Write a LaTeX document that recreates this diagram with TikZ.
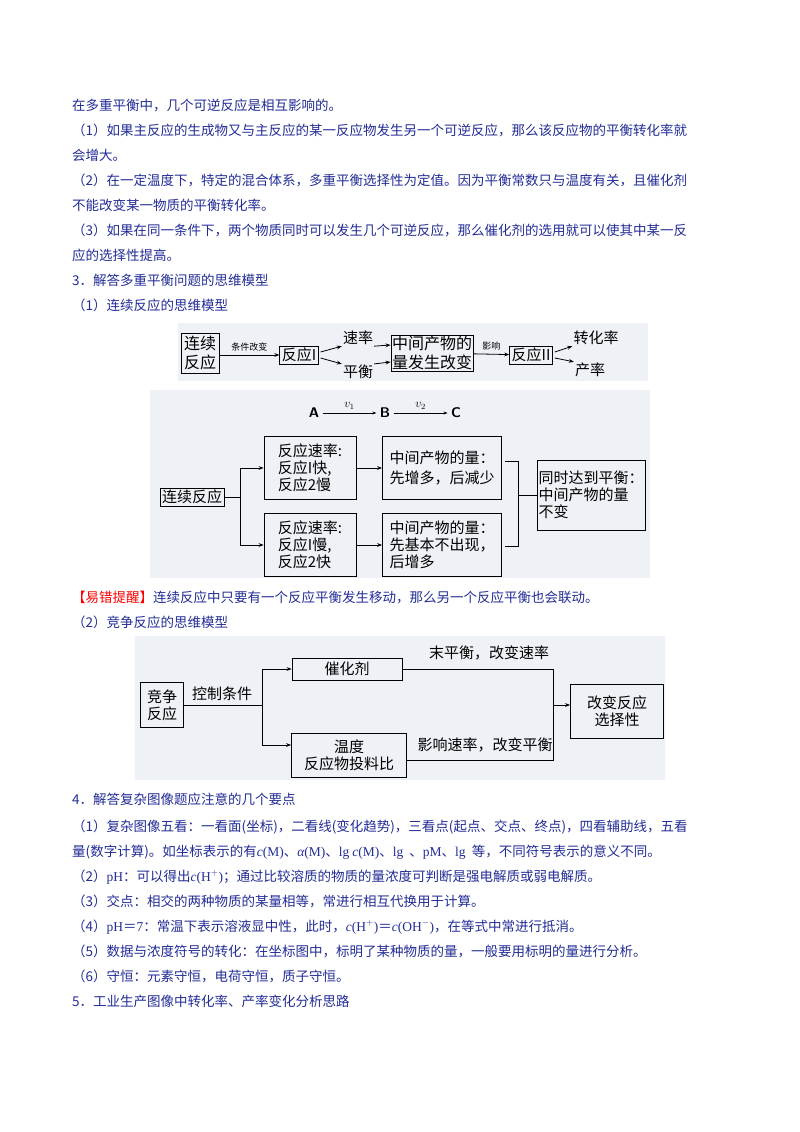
\documentclass[tikz,border=0pt]{standalone}
\usepackage{fontspec}
\setmainfont{Liberation Serif}
\newfontfamily\cjk{Noto Sans CJK SC}
\newfontfamily\lat{Liberation Serif}
\newcommand\lv[1]{{\lat\itshape #1}}
\newcommand\lr[1]{{\lat #1}}
\usetikzlibrary{arrows.meta}
\definecolor{txt}{RGB}{35,45,150}
\definecolor{bgg}{RGB}{238,242,246}
\tikzset{
 ln/.style={anchor=base west,text=txt,font=\cjk\fontsize{13.5}{16}\selectfont,inner sep=0},
 bx/.style={draw,line width=0.8pt,font=\cjk\fontsize{15}{17}\selectfont,inner sep=2pt,align=left},
 lb/.style={font=\cjk\fontsize{15}{17}\selectfont,inner sep=1pt},
 ar/.style={-{Stealth[length=5pt]},line width=0.8pt},
 pl/.style={line width=0.8pt}
}
\begin{document}
\begin{tikzpicture}[x=1pt,y=-1pt]
\useasboundingbox (0,0) rectangle (800,1132);
\fill[white] (0,0) rectangle (800,1132);
\node[ln] (t1) at (72,110) {在多重平衡中，几个可逆反应是相互影响的。};
\node[ln] (t2) at (72,135) {（1）如果主反应的生成物又与主反应的某一反应物发生另一个可逆反应，那么该反应物的平衡转化率就};
\node[ln] (t3) at (72,160) {会增大。};
\node[ln] (t4) at (72,185) {（2）在一定温度下，特定的混合体系，多重平衡选择性为定值。因为平衡常数只与温度有关，且催化剂};
\node[ln] (t5) at (72,210) {不能改变某一物质的平衡转化率。};
\node[ln] (t6) at (72,235) {（3）如果在同一条件下，两个物质同时可以发生几个可逆反应，那么催化剂的选用就可以使其中某一反};
\node[ln] (t7) at (72,260) {应的选择性提高。};
\node[ln] (t8) at (72,285) {3．解答多重平衡问题的思维模型};
\node[ln] (t9) at (72,310) {（1）连续反应的思维模型};
% fig 1
\fill[bgg] (178,323) rectangle (648,381);
\node[bx,minimum width=38pt,minimum height=40pt,align=center,font=\cjk\fontsize{16}{19}\selectfont] (a1) at (200,353) {连续\\反应};
\node[bx] (a2) at (299,355) {反应I};
\node[lb] (a3) at (358,338) {速率};
\node[lb] (a4) at (358,372) {平衡};
\node[bx,align=center,inner sep=1pt,font=\cjk\fontsize{16}{19}\selectfont] (a5) at (432,353) {中间产物的\\量发生改变};
\node[bx] (a6) at (531,355) {反应II};
\node[lb] (a7) at (596,338) {转化率};
\node[lb] (a8) at (590,370) {产率};
\draw[ar] (a1.east|-a2) -- node[above,font=\cjk\fontsize{9}{10}\selectfont]{条件改变} (a2);
\draw[ar] (a2.east) ++(2,-3) -- (a3.south west);
\draw[ar] (a2.east) ++(2,3) -- (a4.north west);
\draw[ar] (a3.south east) -- (a5.west|-345,345);
\draw[ar] (a4.north east) -- (a5.west|-362,362);
\draw[ar] (a5) -- node[above,font=\cjk\fontsize{9}{10}\selectfont]{影响} (a6);
\draw[ar] (a6.east) ++(2,-3) -- (a7.south west);
\draw[ar] (a6.east) ++(2,3) -- (a8.north west);
% fig 2
\fill[bgg] (150,390) rectangle (650,578);
\node[font=\sffamily\bfseries\fontsize{14}{16}\selectfont] (A) at (314,413) {A};
\node[font=\sffamily\bfseries\fontsize{14}{16}\selectfont] (B) at (385,413) {B};
\node[font=\sffamily\bfseries\fontsize{14}{16}\selectfont] (C) at (456,413) {C};
\draw[-{Stealth[length=4pt]},line width=0.6pt] (A) -- node[above,font=\large]{$v_1$} (B);
\draw[-{Stealth[length=4pt]},line width=0.6pt] (B) -- node[above,font=\large]{$v_2$} (C);
\node[bx] (b0) at (192,497) {连续反应};
\node[bx,minimum width=92pt,minimum height=63pt] (b1) at (310,468) {反应速率:\\反应I快,\\反应2慢};
\node[bx,minimum width=92pt,minimum height=63pt] (b2) at (310,545) {反应速率:\\反应I慢,\\反应2快};
\node[bx,minimum width=119pt,minimum height=63pt] (b3) at (442,468) {中间产物的量：\\[3pt]先增多，后减少};
\node[bx,minimum width=119pt,minimum height=63pt] (b4) at (442,545) {中间产物的量：\\先基本不出现，\\后增多};
\node[bx,minimum width=108pt,minimum height=70pt,inner sep=1pt] (b5) at (591,495) {同时达到平衡：\\中间产物的量\\不变};
\coordinate (f0) at (240,497);
\draw[pl] (b0) -- (f0);
\draw[ar] (f0) |- (b1.west);
\draw[ar] (f0) |- (b2.west);
\draw[ar] (b1) -- (b3);
\draw[ar] (b2) -- (b4);
\draw[pl] (505,461) -- (518,461) -- (518,546) -- (505,546);
\draw[pl] (518,495) -- (b5.west);
\node[ln] (t10) at (72,602) {{\color{red}【易错提醒】}连续反应中只要有一个反应平衡发生移动，那么另一个反应平衡也会联动。};
\node[ln] (t11) at (72,627) {（2）竞争反应的思维模型};
% fig 3
\fill[bgg] (135,636) rectangle (665,780);
\node[bx,align=center,minimum width=43pt,minimum height=45pt] (c0) at (162,705) {竞争\\反应};
\node[bx,minimum width=110pt,minimum height=22pt,align=center] (c1) at (347,669) {催化剂};
\node[bx,minimum width=115pt,minimum height=44pt,align=center,inner sep=1pt] (c2) at (349,755) {温度\\反应物投料比};
\node[bx,align=center,minimum width=93pt,minimum height=54pt] (c3) at (617,711) {改变反应\\选择性};
\node[lb] (l1) at (222,694) {控制条件};
\node[lb] (l2) at (489,653) {末平衡，改变速率};
\node[lb] (l3) at (485,745) {影响速率，改变平衡};
\coordinate (g0) at (262,705);
\coordinate (g1) at (553,705);
\draw[pl] (c0.east|-g0) -- (g0);
\draw[ar] (g0) |- (c1.west);
\draw[ar] (g0) |- (c2.west|-745,745);
\draw[pl] (c1.east) -| (g1);
\draw[pl] (c2.east|-760,760) -| (g1);
\draw[ar] (g1) -- (c3.west|-g1);
% section 4
\node[ln] (t12) at (72,804) {4．解答复杂图像题应注意的几个要点};
\node[ln] (t13) at (72,831) {（1）复杂图像五看：一看面(坐标)，二看线(变化趋势)，三看点(起点、交点、终点)，四看辅助线，五看};
\node[ln] (t14) at (72,856) {量(数字计算)。如坐标表示的有\lv{c}\lr{(M)}、\lv{α}\lr{(M)}、\lr{lg} \lv{c}\lr{(M)}、\lr{lg}\ \ 、\lr{pM}、\lr{lg}\ \ 等，不同符号表示的意义不同。};
\node[ln] (t15) at (72,881) {（2）\lr{pH}：可以得出\lv{c}\lr{(H$^+$)}；通过比较溶质的物质的量浓度可判断是强电解质或弱电解质。};
\node[ln] (t16) at (72,906) {（3）交点：相交的两种物质的某量相等，常进行相互代换用于计算。};
\node[ln] (t17) at (72,931) {（4）\lr{pH}＝\lr{7}：常温下表示溶液显中性，此时，\lv{c}\lr{(H$^+$)}＝\lv{c}\lr{(OH$^-$)}，在等式中常进行抵消。};
\node[ln] (t18) at (72,956) {（5）数据与浓度符号的转化：在坐标图中，标明了某种物质的量，一般要用标明的量进行分析。};
\node[ln] (t19) at (72,981) {（6）守恒：元素守恒，电荷守恒，质子守恒。};
\node[ln] (t20) at (72,1006) {5．工业生产图像中转化率、产率变化分析思路};
\end{tikzpicture}
\end{document}
